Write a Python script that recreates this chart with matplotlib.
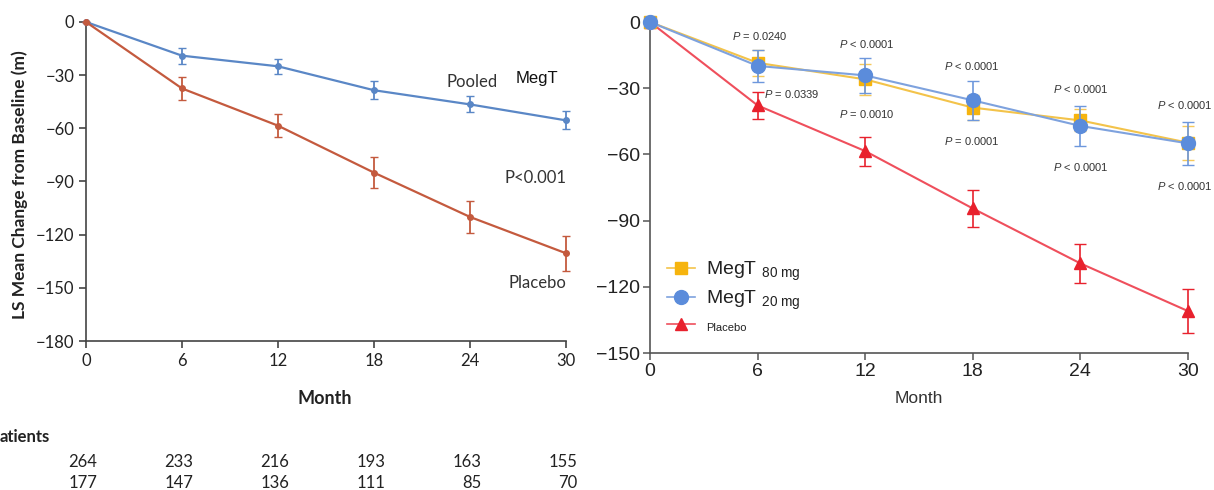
import numpy as np
import matplotlib
matplotlib.use("Agg")
import matplotlib.pyplot as plt
from matplotlib.lines import Line2D
import matplotlib.transforms as mtransforms

plt.rcParams['mathtext.fontset'] = 'custom'
plt.rcParams['mathtext.rm'] = 'Liberation Sans'
plt.rcParams['mathtext.it'] = 'Liberation Sans:italic'

# data
months = [0, 6, 12, 18, 24, 30]

pooled = [0, -19, -25, -38.5, -46.5, -55.5]
pooled_err = [0, 4.5, 4.3, 5, 4.5, 5]
placebo_l = [0, -37.5, -58.5, -85, -110, -130.5]
placebo_l_err = [0, 6.5, 6.5, 8.8, 9, 10]

patients_megt = [264, 233, 216, 193, 163, 155]
patients_placebo = [177, 147, 136, 111, 85, 70]

megt80 = [0, -18.5, -26, -38.8, -44.6, -54.7]
megt80_err = [0, 6, 7, 5.5, 5, 7.7]
megt20 = [0, -19.9, -24.2, -35.5, -47.1, -55]
megt20_err = [0, 7.4, 7.9, 8.8, 9.2, 9.8]
placebo_r = [0, -37.8, -58.5, -84.5, -109.4, -131]
placebo_r_err = [0, 6.3, 6.6, 8.4, 8.8, 9.8]

pvals_upper = ["0.0240", "< 0.0001", "< 0.0001", "< 0.0001", "< 0.0001"]
pvals_lower = ["0.0339", "0.0010", "0.0001", "< 0.0001", "< 0.0001"]

fig = plt.figure(figsize=(12.14, 4.9), dpi=100)

# ---------------- left panel ----------------
lfont = 'Lato'
ax1 = fig.add_axes([86 / 1214, 1 - 341 / 490, 480 / 1214, 319 / 490])
blue_l = '#5a87c6'
red_l = '#c45a3e'
ax1.errorbar(months, pooled, yerr=pooled_err, color=blue_l, marker='o', ms=4,
             lw=1.6, capsize=3, elinewidth=1.3, clip_on=False, zorder=3)
ax1.errorbar(months, placebo_l, yerr=placebo_l_err, color=red_l, marker='o', ms=4,
             lw=1.6, capsize=3, elinewidth=1.3, clip_on=False, zorder=3)
ax1.set_xlim(0, 30)
ax1.set_ylim(-180, 0)
ax1.set_xticks(months)
ax1.set_yticks(np.arange(-180, 1, 30))
for s in ['top', 'right']:
    ax1.spines[s].set_visible(False)
for s in ['left', 'bottom']:
    ax1.spines[s].set_color('#444444')
    ax1.spines[s].set_linewidth(1.2)
ax1.tick_params(colors='#444444', labelsize=12, length=5, width=1.2)
for lab in ax1.get_xticklabels() + ax1.get_yticklabels():
    lab.set_fontfamily(lfont)
    lab.set_color('#222222')
ax1.text(24.1, -34, "Pooled", fontsize=12, family=lfont, color='#333333', ha='center', va='center')
ax1.text(28.2, -32, "MegT", fontsize=12, family='Liberation Sans', color='#111111', ha='center', va='center')
ax1.text(28.1, -88, "P<0.001", fontsize=12, family=lfont, color='#333333', ha='center', va='center')
ax1.text(28.2, -147.5, "Placebo", fontsize=12, family=lfont, color='#333333', ha='center', va='center')

fig.text(20 / 1214, 1 - 185 / 490, "LS Mean Change from Baseline (m)", rotation=90,
         fontsize=12.5, fontweight='bold', family=lfont, color='#222222', ha='center', va='center')
fig.text(325 / 1214, 1 - 398 / 490, "Month", fontsize=13, fontweight='bold', family=lfont,
         color='#222222', ha='center', va='center')
fig.text(0, 1 - 437 / 490, "atients", fontsize=12, fontweight='bold', family=lfont,
         color='#222222', ha='left', va='center')
trans = mtransforms.blended_transform_factory(ax1.transData, fig.transFigure)
for m, a, b in zip(months, patients_megt, patients_placebo):
    ax1.text(m + 0.7, 1 - 462 / 490, str(a), transform=trans, fontsize=12, family=lfont,
             color='#222222', ha='right', va='center')
    ax1.text(m + 0.7, 1 - 483 / 490, str(b), transform=trans, fontsize=12, family=lfont,
             color='#222222', ha='right', va='center')

# ---------------- right panel ----------------
rfont = 'Liberation Sans'
ax2 = fig.add_axes([650 / 1214, 1 - 353 / 490, 538 / 1214, 331 / 490])
yel = '#f6b40e'
blu = '#5b8cdb'
red = '#e8212d'
ax2.errorbar(months, placebo_r, yerr=placebo_r_err, color='#ef4f5c', ecolor=red, marker='^',
             mfc=red, mec=red, ms=9, lw=1.5, capsize=4, elinewidth=1.2, clip_on=False, zorder=3)
ax2.errorbar(months, megt80, yerr=megt80_err, color='#f3c34a', ecolor='#f5c85a', marker='s',
             mfc=yel, mec=yel, ms=9, lw=1.5, capsize=4, elinewidth=1.2, clip_on=False, zorder=4)
ax2.errorbar(months, megt20, yerr=megt20_err, color='#7ea2de', ecolor='#6d97dc', marker='o',
             mfc=blu, mec=blu, ms=10, lw=1.5, capsize=4, elinewidth=1.2, clip_on=False, zorder=5)
ax2.set_xlim(0, 30)
ax2.set_ylim(-150, 0)
ax2.set_xticks(months)
ax2.set_yticks(np.arange(-150, 1, 30))
for s in ['top', 'right']:
    ax2.spines[s].set_visible(False)
for s in ['left', 'bottom']:
    ax2.spines[s].set_color('#555555')
    ax2.spines[s].set_linewidth(1.2)
ax2.tick_params(colors='#555555', labelsize=14, length=5, width=1.1, pad=2)
for lab in ax2.get_xticklabels() + ax2.get_yticklabels():
    lab.set_fontfamily(rfont)
    lab.set_color('#222222')
ax2.set_xlabel("Month", fontsize=12.5, family=rfont, color='#333333', labelpad=8)

up_pos = [(6.13, -6.3), (12.1, -10), (17.96, -19.9), (24.04, -30.4), (29.84, -37.6)]
lo_pos = [(7.9, -32.6), (12.1, -41.7), (17.96, -53.9), (24.04, -65.7), (29.84, -74.3)]
for (x, y), p in zip(up_pos, pvals_upper):
    s = r"$P$ " + (p if p.startswith("<") else "= " + p)
    ax2.text(x, y, s, fontsize=8, family=rfont, color='#333333', ha='center', va='center', clip_on=False)
for (x, y), p in zip(lo_pos, pvals_lower):
    s = r"$P$ " + (p if p.startswith("<") else "= " + p)
    ax2.text(x, y, s, fontsize=8, family=rfont, color='#333333', ha='center', va='center', clip_on=False)

handles = [
    Line2D([], [], color='#f3c34a', marker='s', mfc=yel, mec=yel, ms=9, lw=1.2),
    Line2D([], [], color='#7ea2de', marker='o', mfc=blu, mec=blu, ms=10, lw=1.2),
    Line2D([], [], color='#ef4f5c', marker='^', mfc=red, mec=red, ms=9, lw=1.2),
]
labels = [r"MegT $_{\mathrm{80\ mg}}$", r"MegT $_{\mathrm{20\ mg}}$", "Placebo"]
leg = ax2.legend(handles, labels, loc='upper left', bbox_to_anchor=(0.0, 0.335), frameon=False,
                 handlelength=1.4, handletextpad=0.6, labelspacing=0.3,
                 prop={'family': rfont, 'size': 14})
leg.get_texts()[2].set_fontsize(8)
for t in leg.get_texts():
    t.set_color('#222222')

fig.savefig("out.png", dpi=100)
